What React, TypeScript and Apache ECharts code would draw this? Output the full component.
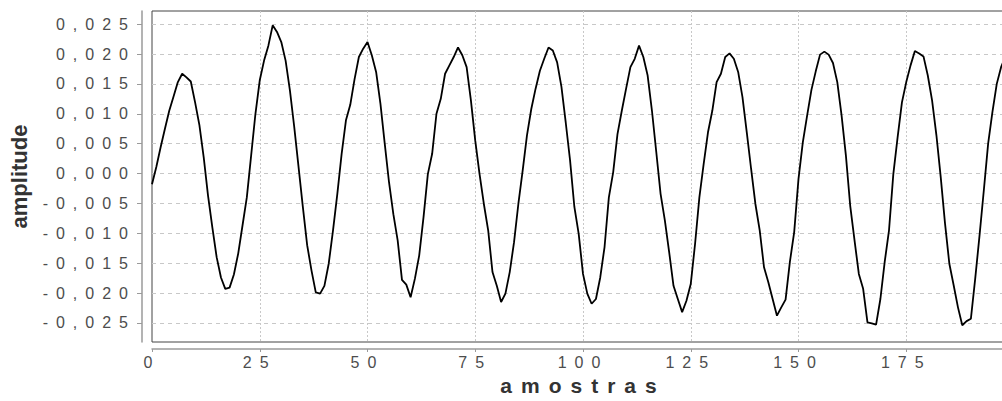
import React, { useEffect, useRef } from "react";
import * as echarts from "echarts";

// amplitude per sample (samples 0..198)
const amp000 = [
  -0.0018, 0.0011, 0.0044, 0.0075, 0.0105, 0.0129, 0.0153, 0.0167, 0.0161, 0.0154,
  0.0119, 0.0081, 0.0027, -0.0037, -0.009, -0.014, -0.0174, -0.0193, -0.0191, -0.0169,
  -0.0134, -0.0087, -0.004, 0.003, 0.01, 0.0156, 0.0189, 0.0214, 0.0248, 0.0237,
  0.022, 0.0189, 0.0139, 0.0078, 0.0011, -0.0056, -0.012, -0.0162, -0.0199, -0.0201,
  -0.0188, -0.0151, -0.0095, -0.0034, 0.0033, 0.0089, 0.0115, 0.0158, 0.0195, 0.0209,
];
const amp050 = [
  0.022, 0.0198, 0.017, 0.0117, 0.005, -0.0015, -0.0068, -0.0112, -0.0178, -0.0186,
  -0.0207, -0.0176, -0.0137, -0.0073, -0.0001, 0.0033, 0.01, 0.0125, 0.0167, 0.0181,
  0.0195, 0.0211, 0.0198, 0.0178, 0.0122, 0.0055, -0.0001, -0.0051, -0.0095, -0.0165,
  -0.0188, -0.0215, -0.0201, -0.0165, -0.0115, -0.0051, 0.0005, 0.0064, 0.0108, 0.0142,
  0.0172, 0.0192, 0.0211, 0.0206, 0.0186, 0.0145, 0.0085, 0.0022, -0.0056, -0.0101,
];
const amp100 = [
  -0.0168, -0.0201, -0.0218, -0.021, -0.0174, -0.0123, -0.004, 0.0002, 0.0066, 0.0105,
  0.0142, 0.0178, 0.0192, 0.0214, 0.0195, 0.0164, 0.0105, 0.0036, -0.0034, -0.0079,
  -0.0132, -0.0188, -0.021, -0.0232, -0.0213, -0.0185, -0.0118, -0.004, 0.0016, 0.0069,
  0.0105, 0.0153, 0.0167, 0.0195, 0.0201, 0.0192, 0.017, 0.0128, 0.0069, 0.0008,
  -0.0051, -0.0095, -0.0157, -0.0182, -0.021, -0.0238, -0.0224, -0.0211, -0.0148, -0.0098,
];
const amp150 = [
  -0.0009, 0.0052, 0.0097, 0.014, 0.0171, 0.0199, 0.0204, 0.0199, 0.0185, 0.0153,
  0.0097, 0.003, -0.0054, -0.0112, -0.0168, -0.0193, -0.0249, -0.0251, -0.0253, -0.021,
  -0.0148, -0.0095, -0.0001, 0.0061, 0.0119, 0.0153, 0.0181, 0.0205, 0.0201, 0.0196,
  0.0164, 0.0122, 0.0064, -0.0006, -0.0084, -0.0151, -0.0187, -0.0224, -0.0254, -0.0247,
  -0.0243, -0.0176, -0.0104, -0.0028, 0.005, 0.0103, 0.015, 0.0178, 0.0196,
];

const amplitude = [...amp000, ...amp050, ...amp100, ...amp150];

const xRange = [0, 200];
const xStep = 25;
const yRange = [-0.0282, 0.0272];
const xName = "amostras";
const yName = "amplitude";

const FONT = "'Liberation Sans', Arial, Helvetica, sans-serif";

export default function App() {
  const ref = useRef<HTMLDivElement>(null);

  useEffect(() => {
    if (!ref.current) return;
    const chart = echarts.init(ref.current, null, { renderer: "svg" });
    const data = amplitude.map((v, i) => [i, v]);
    chart.setOption({
      animation: false,
      backgroundColor: "#ffffff",
      grid: {
        left: 152,
        top: 11,
        right: 0,
        bottom: 59,
        show: true,
        borderColor: "#444",
        borderWidth: 1,
      },
      xAxis: {
        type: "value",
        min: xRange[0],
        max: xRange[1],
        interval: xStep,
        offset: 7,
        name: xName,
        nameLocation: "middle",
        nameGap: 8,
        nameTextStyle: { fontFamily: FONT, fontSize: 21, fontWeight: "bold", color: "#333" },
        axisLine: { show: true, onZero: false, lineStyle: { color: "#9a9a9a", width: 1.5 } },
        axisTick: { show: true, length: 3, lineStyle: { color: "#9a9a9a" } },
        axisLabel: { margin: 5, fontSize: 16, color: "#4d4d4d", fontFamily: FONT, showMaxLabel: false },
        splitLine: {
          show: true,
          showMinLine: false,
          showMaxLine: false,
          lineStyle: { type: [2, 2], color: "#c8c8c8", width: 1 },
        },
      },
      yAxis: {
        type: "value",
        min: yRange[0],
        max: yRange[1],
        splitNumber: 11,
        offset: 10,
        name: yName,
        nameLocation: "middle",
        nameGap: 112,
        nameTextStyle: { fontFamily: FONT, fontSize: 22, fontWeight: "bold", color: "#333" },
        axisLine: { show: true, onZero: false, lineStyle: { color: "#9a9a9a", width: 1.5 } },
        axisTick: { show: true, length: 5, lineStyle: { color: "#9a9a9a" } },
        axisLabel: {
          margin: 6,
          fontSize: 16,
          color: "#4d4d4d",
          fontFamily: FONT,
          showMinLabel: false,
          showMaxLabel: false,
          formatter: (v: number) => v.toFixed(3).replace(".", ","),
        },
        splitLine: {
          show: true,
          showMinLine: false,
          showMaxLine: false,
          lineStyle: { type: [4, 4], color: "#c8c8c8", width: 1 },
        },
      },
      series: [
        {
          type: "line",
          data,
          showSymbol: false,
          symbol: "none",
          clip: true,
          lineStyle: { color: "#000", width: 1.8 },
        },
      ],
    });
    return () => chart.dispose();
  }, []);

  return (
    <>
      <style>{`
        #amp-chart text { letter-spacing: 8px; }
        #amp-chart text[style*="21px"] { letter-spacing: 9px; }
        #amp-chart text[style*="22px"] { letter-spacing: 0px; }
      `}</style>
      <div
        style={{
          position: "fixed",
          left: 0,
          top: 0,
          width: 1002,
          height: 401,
          overflow: "hidden",
          background: "#fff",
        }}
      >
        <div id="amp-chart" ref={ref} style={{ width: 1014, height: 401 }} />
      </div>
    </>
  );
}
